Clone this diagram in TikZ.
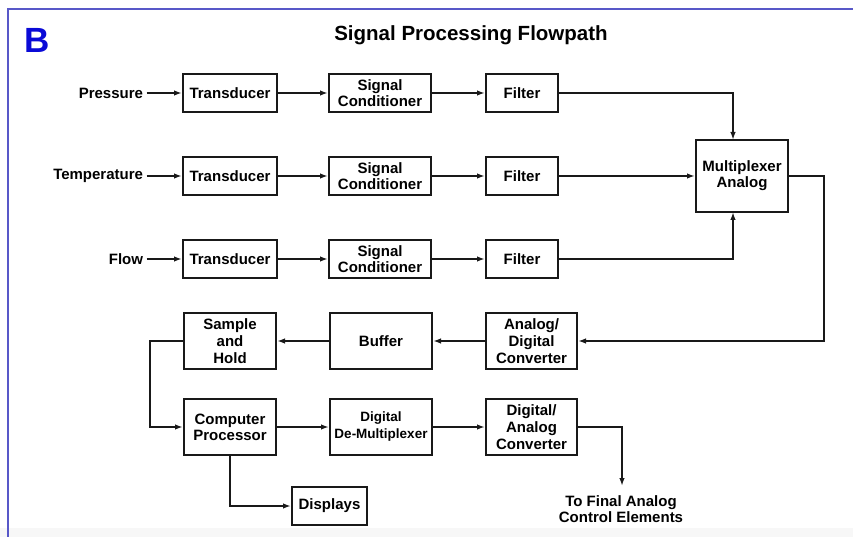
\documentclass[tikz,border=0pt]{standalone}
\usepackage{fontspec}
\setmainfont{Liberation Sans}
\usetikzlibrary{arrows.meta}
\definecolor{framebl}{RGB}{88,88,200}
\definecolor{letterbl}{RGB}{10,10,215}
\tikzset{
  blk/.style={draw=black!90, line width=2pt, inner sep=0pt, align=center,
    font=\bfseries\fontsize{15}{16}\selectfont},
  lbl/.style={inner sep=0pt, outer sep=3.5pt, align=center,
    font=\bfseries\fontsize{15}{16.5}\selectfont},
  conn/.style={line width=1.6pt, draw=black!90, -{Latex[length=8pt,width=5.5pt]}},
}
\begin{document}
\begin{tikzpicture}[x=1pt,y=-1pt]
\useasboundingbox (0,0) rectangle (853,537);
\fill[black!3] (0,528) rectangle (853,537);
% frame
\draw[framebl, line width=2.5pt] (8,537) -- (8,9) -- (853,9);
\node[anchor=base west, inner sep=0pt, text=letterbl, font=\bfseries\fontsize{35}{35}\selectfont] (B) at (24,53) {B};
\node[anchor=base, inner sep=0pt, font=\bfseries\fontsize{20.5}{22}\selectfont] (title) at (471,41) {Signal Processing Flowpath};

% input labels
\node[lbl, anchor=east] (p) at (146.5,93) {Pressure};
\node[lbl, anchor=east] (tp) at (146.5,176) {Temperature};
\node[lbl, anchor=east] (fl) at (146.5,259) {Flow};

% row blocks
\node[blk, minimum width=94, minimum height=38] (t1) at (230,93) {Transducer};
\node[blk, minimum width=102, minimum height=38] (sc1) at (380,93) {Signal\\Conditioner};
\node[blk, minimum width=72, minimum height=38] (f1) at (522,93) {Filter};

\node[blk, minimum width=94, minimum height=38] (t2) at (230,176) {Transducer};
\node[blk, minimum width=102, minimum height=38] (sc2) at (380,176) {Signal\\Conditioner};
\node[blk, minimum width=72, minimum height=38] (f2) at (522,176) {Filter};

\node[blk, minimum width=94, minimum height=38] (t3) at (230,259) {Transducer};
\node[blk, minimum width=102, minimum height=38] (sc3) at (380,259) {Signal\\Conditioner};
\node[blk, minimum width=72, minimum height=38] (f3) at (522,259) {Filter};

\node[blk, minimum width=92, minimum height=72] (mux) at (742,176) {Multiplexer\\Analog};

\node[blk, minimum width=91, minimum height=56, font=\bfseries\fontsize{15}{17}\selectfont] (adc) at (531.5,341) {Analog/\\Digital\\Converter};
\node[blk, minimum width=102, minimum height=56] (buf) at (381,341) {Buffer};
\node[blk, minimum width=92, minimum height=56, font=\bfseries\fontsize{15}{17}\selectfont] (sh) at (230,341) {Sample\\and\\Hold};

\node[blk, minimum width=92, minimum height=56] (cp) at (230,427) {Computer\\Processor};
\node[blk, minimum width=102, minimum height=56, font=\bfseries\fontsize{13.5}{17}\selectfont] (ddm) at (381,427) {Digital\\De-Multiplexer};
\node[blk, minimum width=91, minimum height=56, font=\bfseries\fontsize{15}{17}\selectfont] (dac) at (531.5,427) {Digital/\\Analog\\Converter};

\node[blk, minimum width=75, minimum height=38] (disp) at (329.5,506) {Displays};

\node[lbl, outer sep=0pt] (fintxt) at (621,509) {To Final Analog\\Control Elements};

% helper coordinates
\coordinate (mxtop) at (733,140);
\coordinate (mxbot) at (733,212);
\coordinate (mr) at (824,260);
\coordinate (sl) at (150,380);
\coordinate (fin) at (622,486);

% connectors
\draw[conn] (p) -- (t1);
\draw[conn] (t1) -- (sc1);
\draw[conn] (sc1) -- (f1);
\draw[conn] (f1.east) -| (mxtop);

\draw[conn] (tp) -- (t2);
\draw[conn] (t2) -- (sc2);
\draw[conn] (sc2) -- (f2);
\draw[conn] (f2) -- (mux);

\draw[conn] (fl) -- (t3);
\draw[conn] (t3) -- (sc3);
\draw[conn] (sc3) -- (f3);
\draw[conn] (f3.east) -| (mxbot);

\draw[conn] (mux.east) -| (mr) |- (adc.east);
\draw[conn] (adc) -- (buf);
\draw[conn] (buf) -- (sh);
\draw[conn] (sh.west) -| (sl) |- (cp.west);
\draw[conn] (cp) -- (ddm);
\draw[conn] (ddm) -- (dac);
\draw[conn] (dac.east) -| (fin);
\draw[conn] (cp.south) |- (disp.west);
\end{tikzpicture}
\end{document}
